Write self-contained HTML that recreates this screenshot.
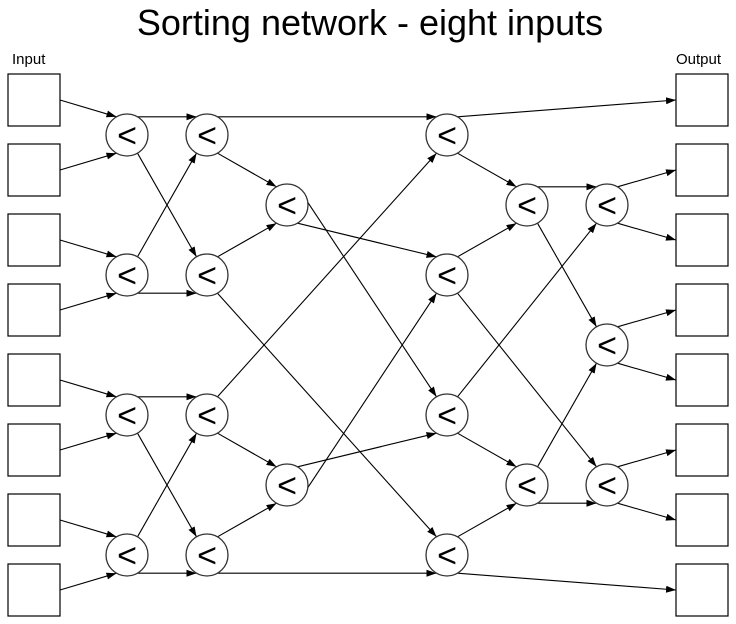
<!DOCTYPE html>
<html><head><meta charset="utf-8"><style>
html,body{margin:0;padding:0;background:#fff;}
svg{display:block;}
</style></head><body>
<svg width="736" height="624" viewBox="0 0 736 624" xmlns="http://www.w3.org/2000/svg">
<defs>
<marker id="a" markerUnits="userSpaceOnUse" markerWidth="11" markerHeight="8" refX="10" refY="3.5" orient="auto">
<path d="M0,0 L10,3.5 L0,7 z" fill="#000"/>
</marker>
</defs>
<text x="370" y="35" font-family="Liberation Sans, sans-serif" font-size="36" text-anchor="middle" fill="#000">Sorting network - eight inputs</text>
<text x="12" y="64" font-family="Liberation Sans, sans-serif" font-size="15" fill="#000">Input</text>
<text x="676" y="64" font-family="Liberation Sans, sans-serif" font-size="15" fill="#000">Output</text>
<g fill="#fff" stroke="#000" stroke-width="1.2">
<rect x="8" y="74" width="52" height="52"/><rect x="8" y="144" width="52" height="52"/>
<rect x="8" y="214" width="52" height="52"/><rect x="8" y="284" width="52" height="52"/>
<rect x="8" y="354" width="52" height="52"/><rect x="8" y="424" width="52" height="52"/>
<rect x="8" y="494" width="52" height="52"/><rect x="8" y="564" width="52" height="52"/>
<rect x="676" y="74" width="52" height="52"/><rect x="676" y="144" width="52" height="52"/>
<rect x="676" y="214" width="52" height="52"/><rect x="676" y="284" width="52" height="52"/>
<rect x="676" y="354" width="52" height="52"/><rect x="676" y="424" width="52" height="52"/>
<rect x="676" y="494" width="52" height="52"/><rect x="676" y="564" width="52" height="52"/>
</g>
<g stroke="#000" stroke-width="1.1" marker-end="url(#a)" fill="none">
<line x1="60" y1="100" x2="116.5" y2="116.8"/><line x1="60" y1="170" x2="116.5" y2="153.2"/>
<line x1="60" y1="240" x2="116.5" y2="256.8"/><line x1="60" y1="310" x2="116.5" y2="293.2"/>
<line x1="60" y1="380" x2="116.5" y2="396.8"/><line x1="60" y1="450" x2="116.5" y2="433.2"/>
<line x1="60" y1="520" x2="116.5" y2="536.8"/><line x1="60" y1="590" x2="116.5" y2="573.2"/>

<line x1="137.5" y1="116.8" x2="196.5" y2="116.8"/><line x1="137.5" y1="153.2" x2="196.5" y2="256.8"/>
<line x1="137.5" y1="256.8" x2="196.5" y2="153.2"/><line x1="137.5" y1="293.2" x2="196.5" y2="293.2"/>
<line x1="137.5" y1="396.8" x2="196.5" y2="396.8"/><line x1="137.5" y1="433.2" x2="196.5" y2="536.8"/>
<line x1="137.5" y1="536.8" x2="196.5" y2="433.2"/><line x1="137.5" y1="573.2" x2="196.5" y2="573.2"/>

<line x1="217.5" y1="116.8" x2="436.5" y2="116.8"/><line x1="217.5" y1="153.2" x2="276.5" y2="186.8"/>
<line x1="217.5" y1="256.8" x2="276.5" y2="223.2"/><line x1="217.5" y1="293.2" x2="436.5" y2="536.8"/>
<line x1="217.5" y1="396.8" x2="436.5" y2="153.2"/><line x1="217.5" y1="433.2" x2="276.5" y2="466.8"/>
<line x1="217.5" y1="536.8" x2="276.5" y2="503.2"/><line x1="217.5" y1="573.2" x2="436.5" y2="573.2"/>

<line x1="297.5" y1="186.8" x2="436.5" y2="396.8"/><line x1="297.5" y1="223.2" x2="436.5" y2="256.8"/>
<line x1="297.5" y1="466.8" x2="436.5" y2="433.2"/><line x1="297.5" y1="503.2" x2="436.5" y2="293.2"/>

<line x1="457.5" y1="116.8" x2="676" y2="100"/><line x1="457.5" y1="153.2" x2="516.5" y2="186.8"/>
<line x1="457.5" y1="256.8" x2="516.5" y2="223.2"/><line x1="457.5" y1="293.2" x2="596.5" y2="466.8"/>
<line x1="457.5" y1="396.8" x2="596.5" y2="223.2"/><line x1="457.5" y1="433.2" x2="516.5" y2="466.8"/>
<line x1="457.5" y1="536.8" x2="516.5" y2="503.2"/><line x1="457.5" y1="573.2" x2="676" y2="590"/>

<line x1="537.5" y1="186.8" x2="596.5" y2="186.8"/><line x1="537.5" y1="223.2" x2="596.5" y2="326.8"/>
<line x1="537.5" y1="466.8" x2="596.5" y2="363.2"/><line x1="537.5" y1="503.2" x2="596.5" y2="503.2"/>

<line x1="617.5" y1="186.8" x2="676" y2="170"/><line x1="617.5" y1="223.2" x2="676" y2="240"/>
<line x1="617.5" y1="326.8" x2="676" y2="310"/><line x1="617.5" y1="363.2" x2="676" y2="380"/>
<line x1="617.5" y1="466.8" x2="676" y2="450"/><line x1="617.5" y1="503.2" x2="676" y2="520"/>
</g>
<g fill="#fff" stroke="#333" stroke-width="1.3">
<circle cx="127" cy="135" r="21"/><circle cx="127" cy="275" r="21"/><circle cx="127" cy="415" r="21"/><circle cx="127" cy="555" r="21"/>
<circle cx="207" cy="135" r="21"/><circle cx="207" cy="275" r="21"/><circle cx="207" cy="415" r="21"/><circle cx="207" cy="555" r="21"/>
<circle cx="287" cy="205" r="21"/><circle cx="287" cy="485" r="21"/>
<circle cx="447" cy="135" r="21"/><circle cx="447" cy="275" r="21"/><circle cx="447" cy="415" r="21"/><circle cx="447" cy="555" r="21"/>
<circle cx="527" cy="205" r="21"/><circle cx="527" cy="485" r="21"/>
<circle cx="607" cy="205" r="21"/><circle cx="607" cy="345" r="21"/><circle cx="607" cy="485" r="21"/>
</g>
<g font-family="Liberation Sans, sans-serif" font-size="34" text-anchor="middle" fill="#000">
<text x="127" y="147">&lt;</text><text x="127" y="287">&lt;</text><text x="127" y="427">&lt;</text><text x="127" y="567">&lt;</text>
<text x="207" y="147">&lt;</text><text x="207" y="287">&lt;</text><text x="207" y="427">&lt;</text><text x="207" y="567">&lt;</text>
<text x="287" y="217">&lt;</text><text x="287" y="497">&lt;</text>
<text x="447" y="147">&lt;</text><text x="447" y="287">&lt;</text><text x="447" y="427">&lt;</text><text x="447" y="567">&lt;</text>
<text x="527" y="217">&lt;</text><text x="527" y="497">&lt;</text>
<text x="607" y="217">&lt;</text><text x="607" y="357">&lt;</text><text x="607" y="497">&lt;</text>
</g>
</svg>
</body></html>
